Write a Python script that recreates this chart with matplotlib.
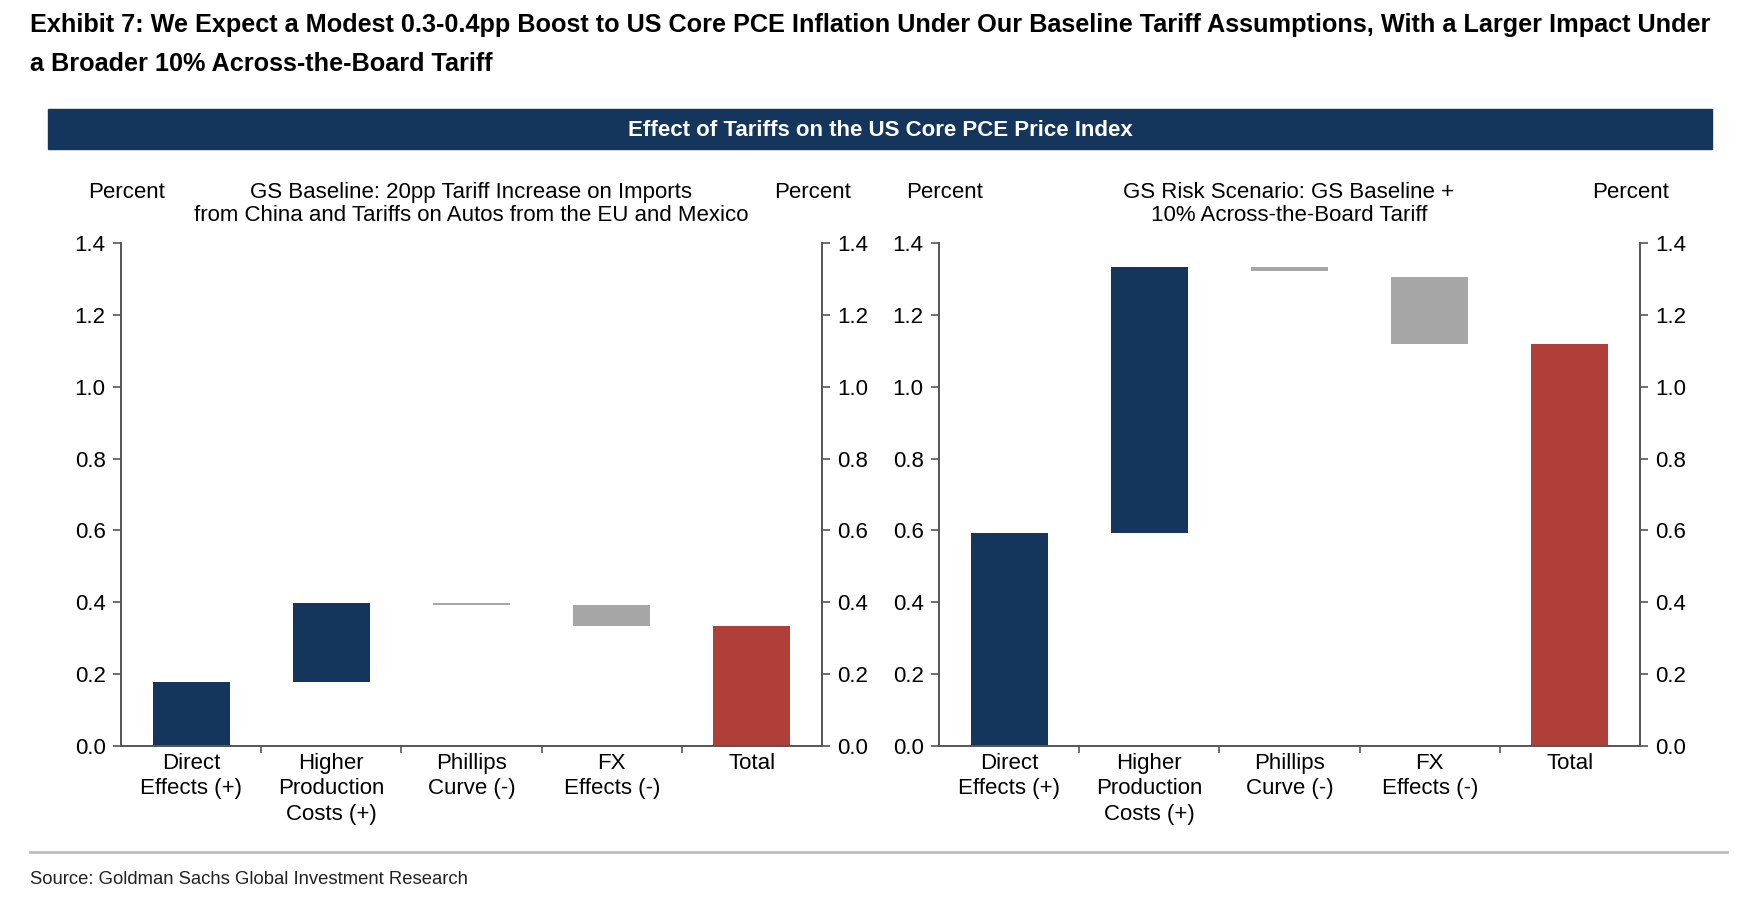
import numpy as np
import matplotlib
matplotlib.use("Agg")
import matplotlib.pyplot as plt
from matplotlib.patches import Rectangle
from matplotlib.ticker import FixedLocator, FormatStrFormatter

plt.rcParams['font.family'] = ['Liberation Sans', 'DejaVu Sans']

# data (bar bottoms / tops, percent)
categories = ["Direct\nEffects (+)", "Higher\nProduction\nCosts (+)", "Phillips\nCurve (-)",
              "FX\nEffects (-)", "Total"]
base_low = [0.0, 0.177, 0.393, 0.333, 0.0]
base_high = [0.177, 0.398, 0.398, 0.392, 0.332]
risk_low = [0.0, 0.593, 1.322, 1.118, 0.0]
risk_high = [0.593, 1.333, 1.333, 1.305, 1.118]
yticks = [0.0, 0.2, 0.4, 0.6, 0.8, 1.0, 1.2, 1.4]

NAVY = "#14365D"
RED = "#B03F3A"
GREY = "#A6A6A6"
bar_colors = [NAVY, NAVY, GREY, GREY, RED]
AXC = "#555555"
FS = 16

W, H = 1758, 898
fig = plt.figure(figsize=(W / 100, H / 100), dpi=100)

def fx(px):
    return px / W

def fy(py):
    return 1 - py / H

# title
t1 = fig.text(fx(30), fy(25), "Exhibit 7: We Expect a Modest 0.3-0.4pp Boost to US Core PCE Inflation Under Our "
              "Baseline Tariff Assumptions, With a Larger Impact Under",
              fontweight='bold', fontstretch='condensed', fontsize=20, va='center', ha='left', color='black')
t2 = fig.text(fx(30), fy(64), "a Broader 10% Across-the-Board Tariff",
              fontweight='bold', fontstretch='condensed', fontsize=20, va='center', ha='left', color='black')

# banner
fig.patches.append(Rectangle((fx(48), fy(149)), fx(1712) - fx(48), fy(109) - fy(149),
                             transform=fig.transFigure, color=NAVY, zorder=0))
fig.text(fx(880), fy(130), "Effect of Tariffs on the US Core PCE Price Index", color='white',
         fontweight='bold', fontsize=16, ha='center', va='center')

def panel(left_px, low, high, subtitle):
    ax = fig.add_axes([fx(left_px), fy(745.6), 701 / W, (745.6 - 243.3) / H])
    x = np.arange(len(categories))
    heights = np.array(high) - np.array(low)
    ax.bar(x, heights, bottom=low, width=0.55, color=bar_colors, zorder=2)
    ax.set_xlim(-0.5, 4.5)
    ax.set_ylim(0, 1.4)
    ax.set_yticks(yticks)
    ax.yaxis.set_major_formatter(FormatStrFormatter('%.1f'))
    ax.set_xticks(x)
    ax.set_xticklabels(categories, fontsize=FS, linespacing=1.3)
    ax.xaxis.set_minor_locator(FixedLocator([0.5, 1.5, 2.5, 3.5]))
    ax.tick_params(axis='x', which='major', length=0, pad=5)
    ax.tick_params(axis='x', which='minor', length=5, direction='out', color=AXC, width=1.2)
    ax.tick_params(axis='y', which='major', left=True, right=True, labelleft=True, labelright=True,
                   length=6, direction='out', color=AXC, width=1.2, labelsize=FS, pad=5)
    ax.spines['top'].set_visible(False)
    for s in ['left', 'right', 'bottom']:
        ax.spines[s].set_color(AXC)
        ax.spines[s].set_linewidth(1.4)
    # axis headers
    fig.text(fx(left_px + 6), fy(192), "Percent", fontsize=FS, ha='center', va='center')
    fig.text(fx(left_px + 692), fy(192), "Percent", fontsize=FS, ha='center', va='center')
    fig.text(fx(left_px + 350), fy(204), subtitle, fontsize=FS, ha='center', va='center',
             linespacing=1.15)
    return ax

panel(121, base_low, base_high,
      "GS Baseline: 20pp Tariff Increase on Imports\nfrom China and Tariffs on Autos from the EU and Mexico")
panel(939, risk_low, risk_high,
      "GS Risk Scenario: GS Baseline +\n10% Across-the-Board Tariff")

# footer
fig.add_artist(plt.Line2D([fx(30), fx(1727)], [fy(852), fy(852)], transform=fig.transFigure,
                          color="#BDBDBD", linewidth=2))
src = fig.text(fx(30), fy(880), "Source: Goldman Sachs Global Investment Research",
               fontstretch='condensed', fontsize=15, ha='left', va='center', color='#222222')

# shrink the condensed-looking texts so they span the same width as in the reference
renderer = fig.canvas.get_renderer()
for txt, target in [(t1, 1682), (src, 441)]:
    w = txt.get_window_extent(renderer).width
    if w > target:
        txt.set_fontsize(txt.get_fontsize() * target / w)
t2.set_fontsize(t1.get_fontsize())

fig.savefig("out.png", dpi=100)
